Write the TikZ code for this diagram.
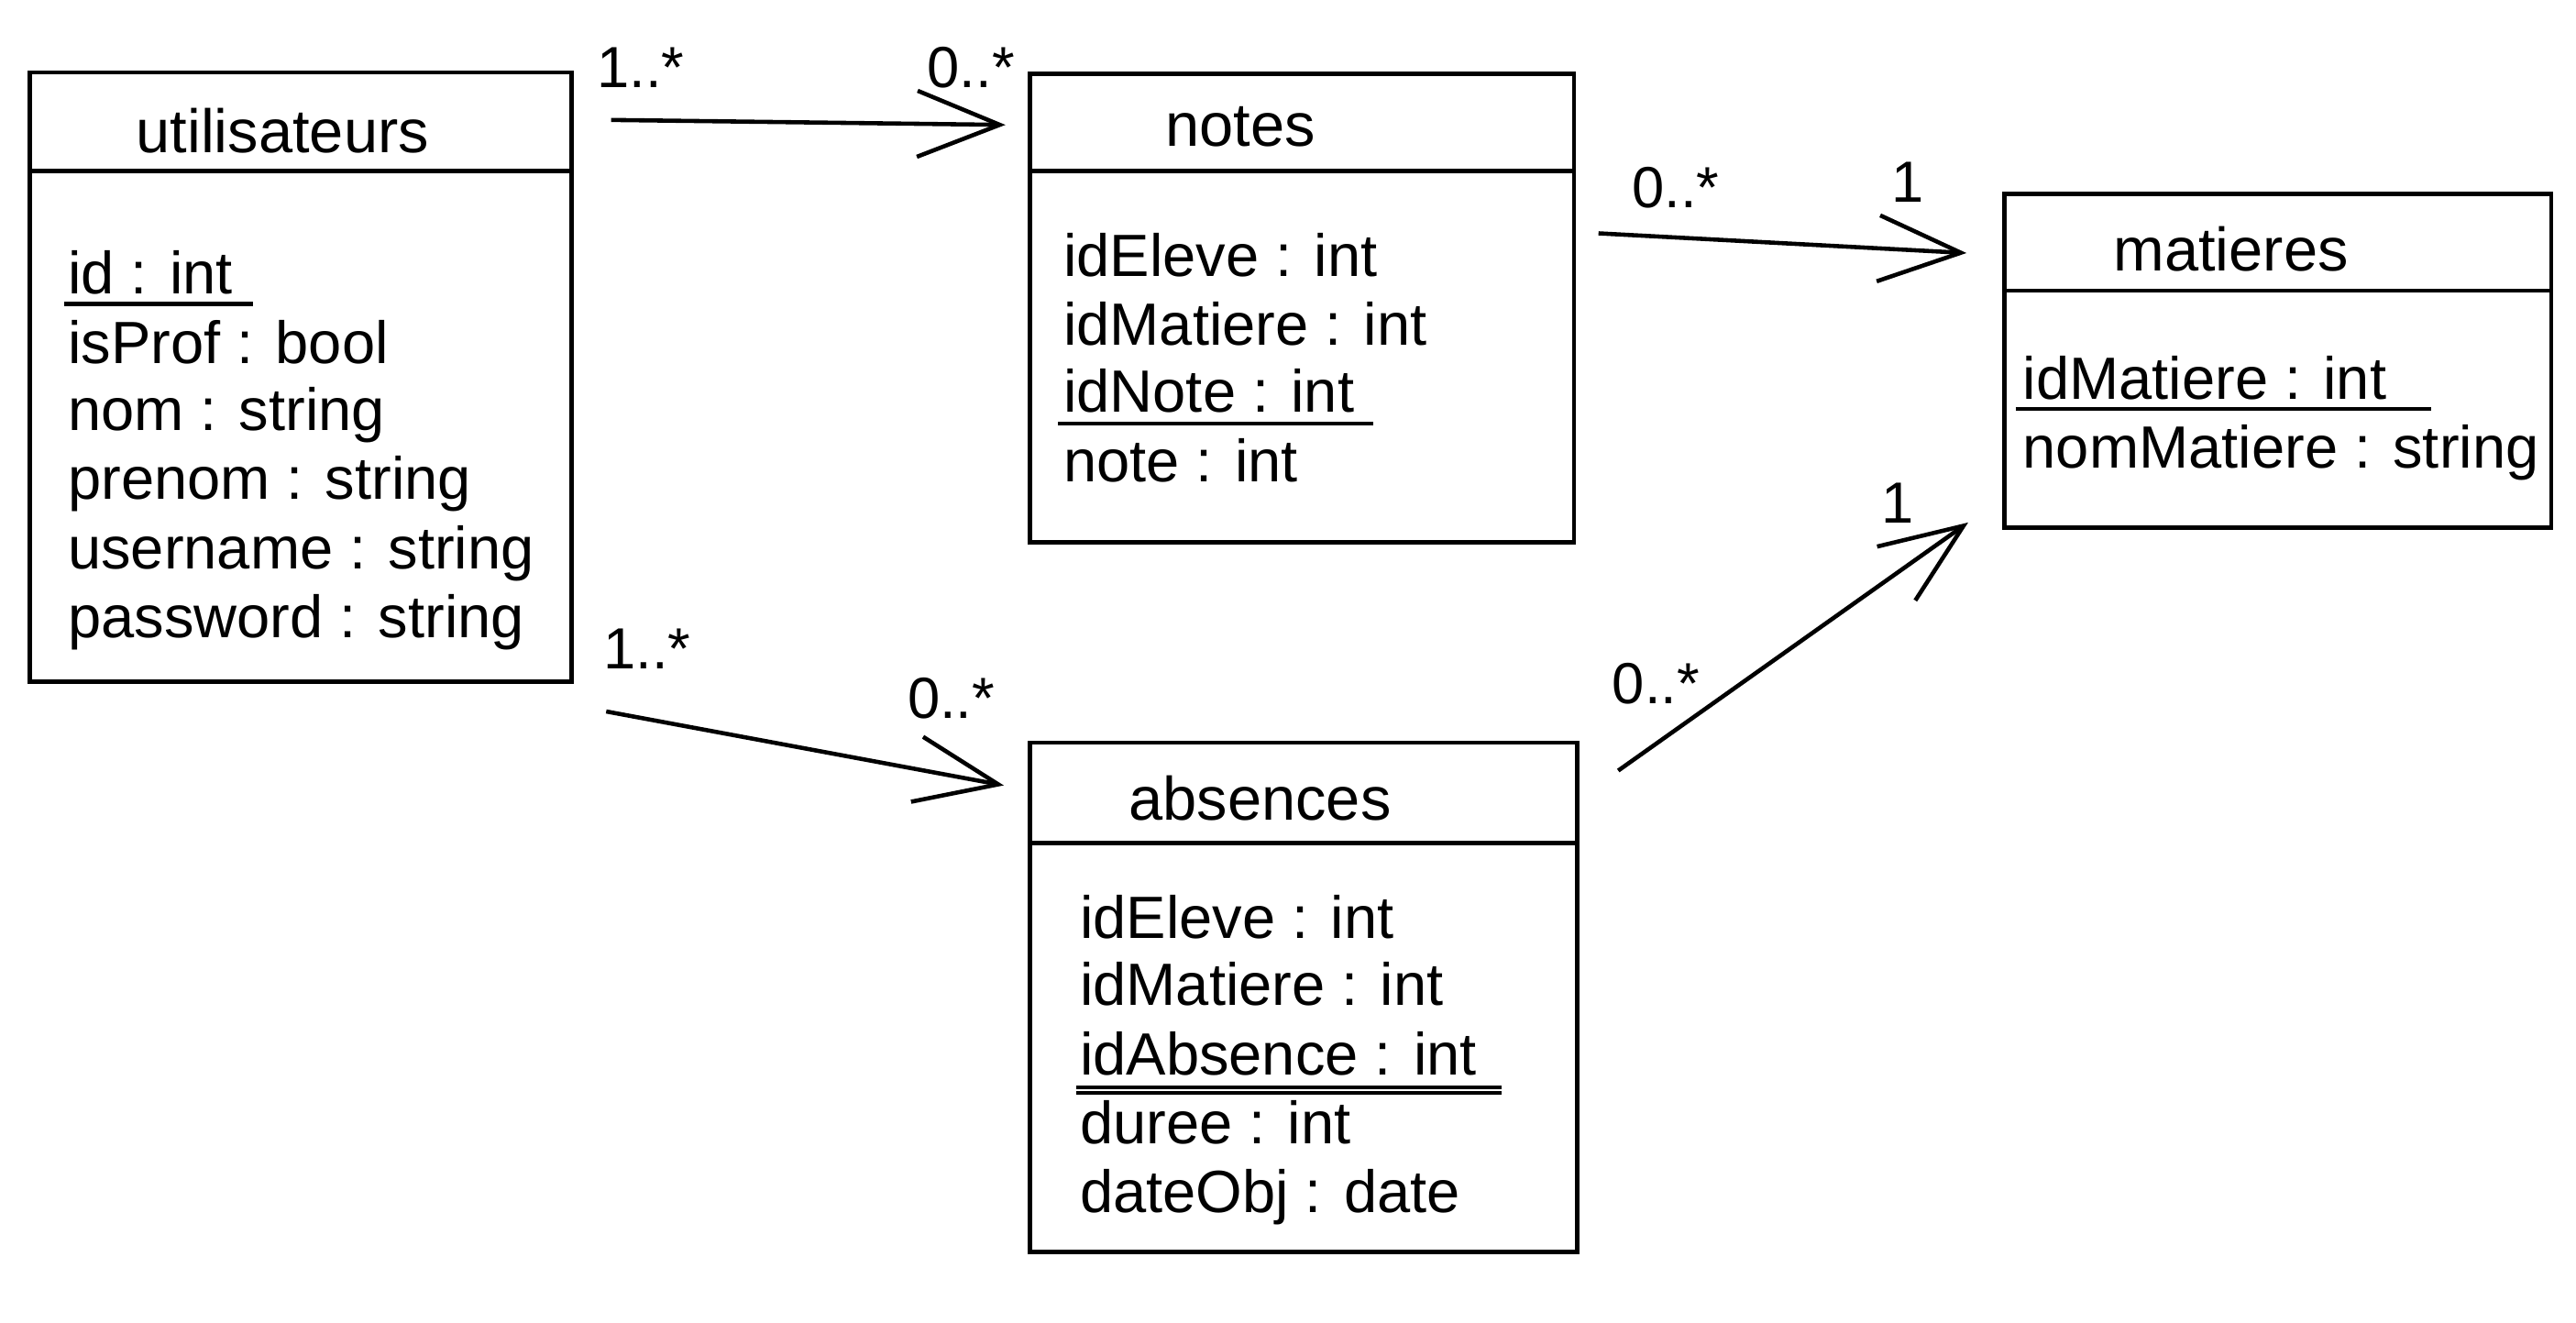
\documentclass[tikz,border=0pt]{standalone}
\usepackage{fontspec}
\setmainfont{Liberation Sans}
\usetikzlibrary{arrows.meta,fit}
\begin{document}
\begin{tikzpicture}[x=0.01792cm,y=-0.01792cm,
  classbox/.style={draw, line width=1.3pt, inner sep=0pt},
  sepline/.style={line width=1.3pt},
  uline/.style={line width=1.2pt},
  txt/.style={font=\fontsize{18.5}{22}\selectfont, inner sep=0pt, anchor=base west},
  ttl/.style={font=\fontsize{19}{22}\selectfont, inner sep=0pt, anchor=base},
  mult/.style={font=\fontsize{18}{22}\selectfont, inner sep=0pt},
  assoc/.style={line width=1.3pt, -{Straight Barb[length=0.9cm,width=0.72cm]}}
]
\useasboundingbox (0,0) rectangle (1568,805);

% ---- utilisateurs
\node[classbox, fit={(18,44) (348,415)}] (util) {};
\draw[sepline] (18,104) -- (348,104);
\node[ttl] (utilT) at (172,93) {utilisateurs};
\node[txt] (u1) at (41,179) {id : int};
\node[txt] (u2) at (41,221) {isProf : bool};
\node[txt] (u3) at (41,262) {nom : string};
\node[txt] (u4) at (41,304) {prenom : string};
\node[txt] (u5) at (41,346) {username : string};
\node[txt] (u6) at (41,388) {password : string};
\draw[uline] (39,185) -- (154,185);

% ---- notes
\node[classbox, fit={(627,45) (958,330)}] (notes) {};
\draw[sepline] (627,104) -- (958,104);
\node[ttl] (notesT) at (755,89) {notes};
\node[txt] (n1) at (647,168) {idEleve : int};
\node[txt] (n2) at (647,210) {idMatiere : int};
\node[txt] (n3) at (647,251) {idNote : int};
\node[txt] (n4) at (647,293) {note : int};
\draw[uline] (644,258) -- (836,258);

% ---- matieres
\node[classbox, fit={(1220,118) (1553,321)}] (mat) {};
\draw[sepline] (1220,177) -- (1553,177);
\node[ttl] (matT) at (1358,165) {matieres};
\node[txt] (m1) at (1231,243) {idMatiere : int};
\node[txt] (m2) at (1231,285) {nomMatiere : string};
\draw[uline] (1227,249) -- (1480,249);

% ---- absences
\node[classbox, fit={(627,452) (960,762)}] (abs) {};
\draw[sepline] (627,513) -- (960,513);
\node[ttl] (absT) at (767,499) {absences};
\node[txt] (a1) at (657,571) {idEleve : int};
\node[txt] (a2) at (657,612) {idMatiere : int};
\node[txt] (a3) at (657,654) {idAbsence : int};
\node[txt] (a4) at (657,696) {duree : int};
\node[txt] (a5) at (657,738) {dateObj : date};
\draw[uline] (655,662) -- (914,662);
\draw[uline] (655,665) -- (914,665);

% ---- connectors
\coordinate (c1s) at (372,73);  \coordinate (c1e) at (612,76);
\coordinate (c2s) at (369,433); \coordinate (c2e) at (611,478);
\coordinate (c3s) at (973,142); \coordinate (c3e) at (1197,154);
\coordinate (c4s) at (985,469); \coordinate (c4e) at (1198,318);
\draw[assoc] (c1s) -- (c1e);
\draw[assoc] (c2s) -- (c2e);
\draw[assoc] (c3s) -- (c3e);
\draw[assoc] (c4s) -- (c4e);

% ---- multiplicities
\node[mult] (l1a) at (390,41) {1..*};
\node[mult] (l1b) at (591,41) {0..*};
\node[mult] (l2a) at (394,395) {1..*};
\node[mult] (l2b) at (579,425) {0..*};
\node[mult] (l3a) at (1020,114) {0..*};
\node[mult] (l3b) at (1161,111) {1};
\node[mult] (l4a) at (1008,416) {0..*};
\node[mult] (l4b) at (1155,306) {1};
\end{tikzpicture}
\end{document}
